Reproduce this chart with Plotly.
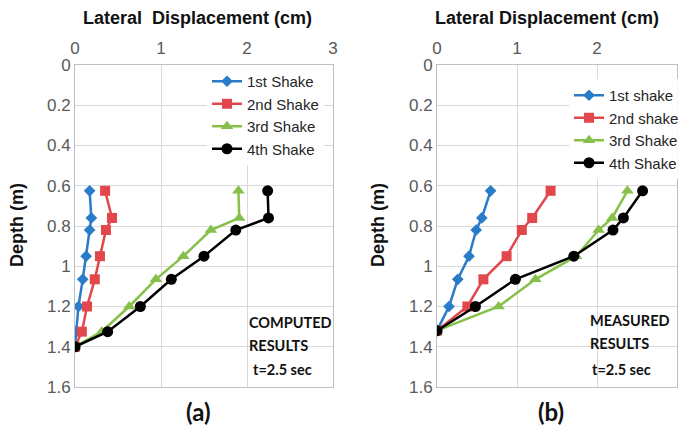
import plotly.graph_objects as go

depth_c = [0.625, 0.76, 0.82, 0.95, 1.065, 1.2, 1.325, 1.4]
comp_1st = [0.17, 0.19, 0.17, 0.13, 0.09, 0.04, 0.01, 0.0]
comp_2nd = [0.35, 0.43, 0.36, 0.29, 0.23, 0.14, 0.08, 0.0]
comp_3rd = [1.90, 1.91, 1.58, 1.26, 0.94, 0.63, 0.31, 0.0]
comp_4th = [2.24, 2.25, 1.87, 1.50, 1.12, 0.76, 0.38, 0.0]

depth_m = [0.625, 0.76, 0.82, 0.95, 1.065, 1.2, 1.32]
meas_1st = [0.67, 0.56, 0.49, 0.40, 0.26, 0.15, 0.0]
meas_2nd = [1.42, 1.19, 1.06, 0.87, 0.58, 0.38, 0.0]
meas_3rd = [2.38, 2.19, 2.02, 1.74, 1.23, 0.77, 0.0]
meas_4th = [2.57, 2.33, 2.20, 1.71, 0.98, 0.48, 0.0]

names_c = ["1st Shake", "2nd Shake", "3rd Shake", "4th Shake"]
names_m = ["1st shake", "2nd shake", "3rd Shake", "4th Shake"]
colors = ["#2A7BC8", "#E2474B", "#86C04A", "#000000"]
symbols = ["diamond", "square", "triangle-up", "circle"]
msizes = [9, 10, 11, 11]

x_ticks = [0, 1, 2, 3]
y_ticks = [0, 0.2, 0.4, 0.6, 0.8, 1, 1.2, 1.4, 1.6]

fig = go.Figure()
for i, (vals, nm) in enumerate(zip([comp_1st, comp_2nd, comp_3rd, comp_4th], names_c)):
    fig.add_trace(go.Scatter(x=vals, y=depth_c, name=nm, mode="lines+markers",
                             line=dict(color=colors[i], width=2.5),
                             marker=dict(symbol=symbols[i], size=msizes[i], color=colors[i]),
                             xaxis="x", yaxis="y", legend="legend"))
for i, (vals, nm) in enumerate(zip([meas_1st, meas_2nd, meas_3rd, meas_4th], names_m)):
    fig.add_trace(go.Scatter(x=vals, y=depth_m, name=nm, mode="lines+markers",
                             line=dict(color=colors[i], width=2.5),
                             marker=dict(symbol=symbols[i], size=msizes[i], color=colors[i]),
                             xaxis="x2", yaxis="y2", legend="legend2"))

tickfont = dict(family="Liberation Sans, Arial", size=17, color="#595959")
xcommon = dict(range=[0, 3], tickvals=x_ticks, side="top", showgrid=True, gridcolor="#D9D9D9",
               gridwidth=1, zeroline=False, showline=True, linecolor="#BFBFBF", mirror=True,
               tickfont=tickfont, ticks="", ticklen=0, automargin=False, ticklabelstandoff=3)
ycommon = dict(range=[1.6, 0], tickvals=y_ticks, showgrid=True, gridcolor="#D9D9D9",
               gridwidth=1, zeroline=False, showline=True, linecolor="#BFBFBF", mirror=True,
               tickfont=tickfont, ticks="", automargin=False)

y0, y1 = 1 - 387 / 432, 1 - 65 / 432
legfont = dict(family="Liberation Sans, Arial", size=15, color="#262626")
fig.update_layout(
    width=681, height=432, margin=dict(l=0, r=0, t=0, b=0, autoexpand=False),
    paper_bgcolor="white", plot_bgcolor="white",
    xaxis=dict(domain=[75 / 681, 333 / 681], anchor="y", **xcommon),
    yaxis=dict(domain=[y0, y1], anchor="x", **ycommon),
    xaxis2=dict(domain=[437 / 681, 677 / 681], anchor="y2", **xcommon),
    yaxis2=dict(domain=[y0, y1], anchor="x2", **ycommon),
    legend=dict(x=207 / 681, y=1 - 65 / 432, xanchor="left", yanchor="top",
                bgcolor="rgba(255,255,255,0.9)", font=legfont, tracegroupgap=0, itemwidth=30),
    legend2=dict(x=569 / 681, y=1 - 79 / 432, xanchor="left", yanchor="top",
                 bgcolor="rgba(255,255,255,0.9)", font=legfont, tracegroupgap=0, itemwidth=30),
    showlegend=True,
)

title_font = dict(family="Liberation Sans, Arial", size=18, color="#111111")
ann = [
    dict(text="<b>Lateral  Displacement (cm)</b>", x=197, y=18),
    dict(text="<b>Lateral Displacement (cm)</b>", x=547, y=18),
]
for a in ann:
    fig.add_annotation(text=a["text"], x=a["x"] / 681, y=1 - a["y"] / 432, xref="paper", yref="paper",
                       showarrow=False, font=title_font, xanchor="center", yanchor="middle")
for xx in [17, 378]:
    fig.add_annotation(text="<b>Depth (m)</b>", x=xx / 681, y=1 - 225 / 432, xref="paper", yref="paper",
                       showarrow=False, font=title_font, textangle=-90, xanchor="center", yanchor="middle")

note_font = dict(family="Lato, Calibri", size=14.5, color="#111111")
notes = [
    ("<b>COMPUTED</b>", 247, 322), ("<b>RESULTS</b>", 247, 345), ("<b>t=2.5 sec</b>", 251, 369),
    ("<b>MEASURED</b>", 588, 320), ("<b>RESULTS</b>", 588, 343), ("<b>t=2.5 sec</b>", 590, 369),
]
for t, xx, yy in notes:
    fig.add_annotation(text=t, x=xx / 681, y=1 - yy / 432, xref="paper", yref="paper",
                       showarrow=False, font=note_font, xanchor="left", yanchor="middle")

for t, xx in [("<b>(a)</b>", 198), ("<b>(b)</b>", 551)]:
    fig.add_annotation(text=t, x=xx / 681, y=1 - 411 / 432, xref="paper", yref="paper",
                       showarrow=False, font=dict(family="Lato, Calibri", size=24, color="#111111"),
                       xanchor="center", yanchor="middle")

fig.write_html("out.html")
